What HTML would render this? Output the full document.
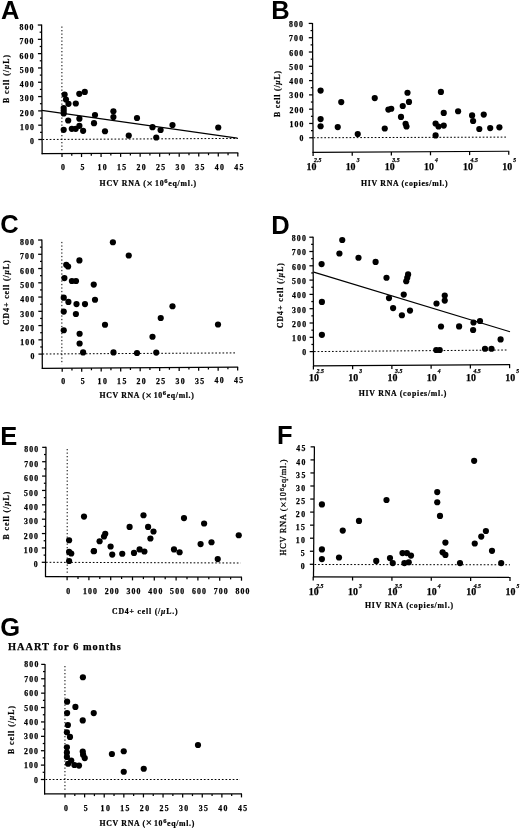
<!DOCTYPE html>
<html><head><meta charset="utf-8"><title>Figure</title>
<style>
html,body{margin:0;padding:0;background:#fff;}
body{width:520px;height:830px;overflow:hidden;}
svg{display:block;}
</style></head>
<body>
<svg width="520" height="830" viewBox="0 0 520 830" fill="#000">
<defs><filter id="soft" x="0" y="0" width="520" height="830" filterUnits="userSpaceOnUse"><feGaussianBlur stdDeviation="0.4"/></filter></defs>
<rect width="520" height="830" fill="#fff"/>
<g filter="url(#soft)">
<text x="1" y="19.2" font-size="25.5" font-weight="bold" font-family='"Liberation Sans", sans-serif'>A</text>
<line x1="41.6" y1="24.5" x2="42.15" y2="154.2" stroke="#000" stroke-width="1.25"/>
<line x1="38.29" y1="139.5" x2="42.09" y2="139.5" stroke="#000" stroke-width="1.25"/>
<text x="33.94" y="144.4" font-size="7.8" text-anchor="end" font-weight="bold" font-family='"Liberation Serif", serif' stroke="#000" stroke-width="0.25">0</text>
<line x1="40.06" y1="132.34" x2="42.06" y2="132.34" stroke="#000" stroke-width="1.25"/>
<line x1="38.23" y1="125.19" x2="42.03" y2="125.19" stroke="#000" stroke-width="1.25"/>
<text x="33.88" y="130.09" font-size="7.8" text-anchor="end" font-weight="bold" font-family='"Liberation Serif", serif' stroke="#000" stroke-width="0.25" textLength="14" lengthAdjust="spacing">100</text>
<line x1="40" y1="118.03" x2="42" y2="118.03" stroke="#000" stroke-width="1.25"/>
<line x1="38.17" y1="110.88" x2="41.97" y2="110.88" stroke="#000" stroke-width="1.25"/>
<text x="33.82" y="115.78" font-size="7.8" text-anchor="end" font-weight="bold" font-family='"Liberation Serif", serif' stroke="#000" stroke-width="0.25" textLength="14" lengthAdjust="spacing">200</text>
<line x1="39.94" y1="103.72" x2="41.94" y2="103.72" stroke="#000" stroke-width="1.25"/>
<line x1="38.11" y1="96.57" x2="41.91" y2="96.57" stroke="#000" stroke-width="1.25"/>
<text x="33.76" y="101.47" font-size="7.8" text-anchor="end" font-weight="bold" font-family='"Liberation Serif", serif' stroke="#000" stroke-width="0.25" textLength="14" lengthAdjust="spacing">300</text>
<line x1="39.88" y1="89.41" x2="41.88" y2="89.41" stroke="#000" stroke-width="1.25"/>
<line x1="38.04" y1="82.26" x2="41.84" y2="82.26" stroke="#000" stroke-width="1.25"/>
<text x="33.69" y="87.16" font-size="7.8" text-anchor="end" font-weight="bold" font-family='"Liberation Serif", serif' stroke="#000" stroke-width="0.25" textLength="14" lengthAdjust="spacing">400</text>
<line x1="39.81" y1="75.1" x2="41.81" y2="75.1" stroke="#000" stroke-width="1.25"/>
<line x1="37.98" y1="67.95" x2="41.78" y2="67.95" stroke="#000" stroke-width="1.25"/>
<text x="33.63" y="72.85" font-size="7.8" text-anchor="end" font-weight="bold" font-family='"Liberation Serif", serif' stroke="#000" stroke-width="0.25" textLength="14" lengthAdjust="spacing">500</text>
<line x1="39.75" y1="60.8" x2="41.75" y2="60.8" stroke="#000" stroke-width="1.25"/>
<line x1="37.92" y1="53.64" x2="41.72" y2="53.64" stroke="#000" stroke-width="1.25"/>
<text x="33.57" y="58.54" font-size="7.8" text-anchor="end" font-weight="bold" font-family='"Liberation Serif", serif' stroke="#000" stroke-width="0.25" textLength="14" lengthAdjust="spacing">600</text>
<line x1="39.69" y1="46.48" x2="41.69" y2="46.48" stroke="#000" stroke-width="1.25"/>
<line x1="37.86" y1="39.33" x2="41.66" y2="39.33" stroke="#000" stroke-width="1.25"/>
<text x="33.51" y="44.23" font-size="7.8" text-anchor="end" font-weight="bold" font-family='"Liberation Serif", serif' stroke="#000" stroke-width="0.25" textLength="14" lengthAdjust="spacing">700</text>
<line x1="39.63" y1="32.17" x2="41.63" y2="32.17" stroke="#000" stroke-width="1.25"/>
<line x1="37.8" y1="25.02" x2="41.6" y2="25.02" stroke="#000" stroke-width="1.25"/>
<text x="33.45" y="29.92" font-size="7.8" text-anchor="end" font-weight="bold" font-family='"Liberation Serif", serif' stroke="#000" stroke-width="0.25" textLength="14" lengthAdjust="spacing">800</text>
<line x1="41.65" y1="153.7" x2="238.31" y2="152.9" stroke="#000" stroke-width="1.25"/>
<line x1="62" y1="153.62" x2="62" y2="157.12" stroke="#000" stroke-width="1.25"/>
<text x="63" y="170.42" font-size="7.8" text-anchor="middle" font-weight="bold" font-family='"Liberation Serif", serif' stroke="#000" stroke-width="0.25">0</text>
<line x1="71.77" y1="153.58" x2="71.77" y2="155.78" stroke="#000" stroke-width="1.25"/>
<line x1="81.53" y1="153.54" x2="81.53" y2="157.04" stroke="#000" stroke-width="1.25"/>
<text x="82.53" y="170.34" font-size="7.8" text-anchor="middle" font-weight="bold" font-family='"Liberation Serif", serif' stroke="#000" stroke-width="0.25">5</text>
<line x1="91.3" y1="153.5" x2="91.3" y2="155.7" stroke="#000" stroke-width="1.25"/>
<line x1="101.07" y1="153.46" x2="101.07" y2="156.96" stroke="#000" stroke-width="1.25"/>
<text x="102.07" y="170.26" font-size="7.8" text-anchor="middle" font-weight="bold" font-family='"Liberation Serif", serif' stroke="#000" stroke-width="0.25" textLength="9.2" lengthAdjust="spacing">10</text>
<line x1="110.84" y1="153.42" x2="110.84" y2="155.62" stroke="#000" stroke-width="1.25"/>
<line x1="120.61" y1="153.38" x2="120.61" y2="156.88" stroke="#000" stroke-width="1.25"/>
<text x="121.61" y="170.18" font-size="7.8" text-anchor="middle" font-weight="bold" font-family='"Liberation Serif", serif' stroke="#000" stroke-width="0.25" textLength="9.2" lengthAdjust="spacing">15</text>
<line x1="130.37" y1="153.34" x2="130.37" y2="155.54" stroke="#000" stroke-width="1.25"/>
<line x1="140.14" y1="153.3" x2="140.14" y2="156.8" stroke="#000" stroke-width="1.25"/>
<text x="141.14" y="170.1" font-size="7.8" text-anchor="middle" font-weight="bold" font-family='"Liberation Serif", serif' stroke="#000" stroke-width="0.25" textLength="9.2" lengthAdjust="spacing">20</text>
<line x1="149.91" y1="153.26" x2="149.91" y2="155.46" stroke="#000" stroke-width="1.25"/>
<line x1="159.68" y1="153.22" x2="159.68" y2="156.72" stroke="#000" stroke-width="1.25"/>
<text x="160.68" y="170.02" font-size="7.8" text-anchor="middle" font-weight="bold" font-family='"Liberation Serif", serif' stroke="#000" stroke-width="0.25" textLength="9.2" lengthAdjust="spacing">25</text>
<line x1="169.44" y1="153.18" x2="169.44" y2="155.38" stroke="#000" stroke-width="1.25"/>
<line x1="179.21" y1="153.14" x2="179.21" y2="156.64" stroke="#000" stroke-width="1.25"/>
<text x="180.21" y="169.94" font-size="7.8" text-anchor="middle" font-weight="bold" font-family='"Liberation Serif", serif' stroke="#000" stroke-width="0.25" textLength="9.2" lengthAdjust="spacing">30</text>
<line x1="188.98" y1="153.1" x2="188.98" y2="155.3" stroke="#000" stroke-width="1.25"/>
<line x1="198.75" y1="153.06" x2="198.75" y2="156.56" stroke="#000" stroke-width="1.25"/>
<text x="199.75" y="169.86" font-size="7.8" text-anchor="middle" font-weight="bold" font-family='"Liberation Serif", serif' stroke="#000" stroke-width="0.25" textLength="9.2" lengthAdjust="spacing">35</text>
<line x1="208.51" y1="153.02" x2="208.51" y2="155.22" stroke="#000" stroke-width="1.25"/>
<line x1="218.28" y1="152.98" x2="218.28" y2="156.48" stroke="#000" stroke-width="1.25"/>
<text x="219.28" y="169.78" font-size="7.8" text-anchor="middle" font-weight="bold" font-family='"Liberation Serif", serif' stroke="#000" stroke-width="0.25" textLength="9.2" lengthAdjust="spacing">40</text>
<line x1="228.05" y1="152.94" x2="228.05" y2="155.14" stroke="#000" stroke-width="1.25"/>
<line x1="237.81" y1="152.9" x2="237.81" y2="156.4" stroke="#000" stroke-width="1.25"/>
<text x="238.81" y="169.7" font-size="7.8" text-anchor="middle" font-weight="bold" font-family='"Liberation Serif", serif' stroke="#000" stroke-width="0.25" textLength="9.2" lengthAdjust="spacing">45</text>
<line x1="61.9" y1="26.5" x2="61.9" y2="152" stroke="#000" stroke-width="1.0" stroke-dasharray="1.3 2.2"/>
<line x1="42.5" y1="139.5" x2="238" y2="138.4" stroke="#000" stroke-width="1.0" stroke-dasharray="1.7 1.9"/>
<line x1="41.8" y1="110.35" x2="237.3" y2="138.1" stroke="#000" stroke-width="1.15"/>
<circle cx="64.6" cy="94.6" r="3.1"/>
<circle cx="66" cy="99.6" r="3.1"/>
<circle cx="68.5" cy="103.8" r="3.1"/>
<circle cx="79.3" cy="93.8" r="3.1"/>
<circle cx="84.8" cy="91.9" r="3.1"/>
<circle cx="75.8" cy="103.5" r="3.1"/>
<circle cx="63.7" cy="108.1" r="3.1"/>
<circle cx="63.7" cy="110.8" r="3.1"/>
<circle cx="63.7" cy="113.5" r="3.1"/>
<circle cx="68.2" cy="120.5" r="3.1"/>
<circle cx="79.4" cy="118.7" r="3.1"/>
<circle cx="63.7" cy="129.8" r="3.1"/>
<circle cx="71.8" cy="128.8" r="3.1"/>
<circle cx="75.7" cy="128.8" r="3.1"/>
<circle cx="79.4" cy="125.8" r="3.1"/>
<circle cx="83.1" cy="130.8" r="3.1"/>
<circle cx="95" cy="115" r="3.1"/>
<circle cx="94" cy="123.2" r="3.1"/>
<circle cx="105" cy="131.25" r="3.1"/>
<circle cx="113.4" cy="111.25" r="3.1"/>
<circle cx="113.4" cy="117" r="3.1"/>
<circle cx="137" cy="118" r="3.1"/>
<circle cx="128.75" cy="135.6" r="3.1"/>
<circle cx="152.5" cy="127.2" r="3.1"/>
<circle cx="160.6" cy="130" r="3.1"/>
<circle cx="156.25" cy="137.5" r="3.1"/>
<circle cx="172.5" cy="125" r="3.1"/>
<circle cx="218.25" cy="127.5" r="3.1"/>
<text transform="translate(8.6,79) rotate(-90)" x="0" y="0" font-size="7.8" text-anchor="middle" font-weight="bold" font-family='"Liberation Serif", serif' stroke="#000" stroke-width="0.22" textLength="48" lengthAdjust="spacing">B cell (/<tspan font-style="italic">μ</tspan>L)</text>
<text x="99.6" y="186.1" font-size="7.8" font-weight="bold" font-family='"Liberation Serif", serif' stroke="#000" stroke-width="0.22" textLength="96.4" lengthAdjust="spacing">HCV RNA (<tspan font-size="11" dy="0.9">×</tspan><tspan dy="-0.9"> 10</tspan><tspan dy="-2.8" font-size="6.5">6</tspan><tspan dy="2.8">eq/ml.)</tspan></text>
<text x="271.3" y="18.8" font-size="25.5" font-weight="bold" font-family='"Liberation Sans", sans-serif'>B</text>
<line x1="312.5" y1="22.9" x2="313.1" y2="152.9" stroke="#000" stroke-width="1.25"/>
<line x1="309.23" y1="137.75" x2="313.03" y2="137.75" stroke="#000" stroke-width="1.25"/>
<text x="303.53" y="141.35" font-size="7.8" text-anchor="end" font-weight="bold" font-family='"Liberation Serif", serif' stroke="#000" stroke-width="0.25">0</text>
<line x1="311" y1="130.6" x2="313" y2="130.6" stroke="#000" stroke-width="1.25"/>
<line x1="309.17" y1="123.46" x2="312.97" y2="123.46" stroke="#000" stroke-width="1.25"/>
<text x="303.47" y="127.06" font-size="7.8" text-anchor="end" font-weight="bold" font-family='"Liberation Serif", serif' stroke="#000" stroke-width="0.25" textLength="14" lengthAdjust="spacing">100</text>
<line x1="310.93" y1="116.32" x2="312.93" y2="116.32" stroke="#000" stroke-width="1.25"/>
<line x1="309.1" y1="109.17" x2="312.9" y2="109.17" stroke="#000" stroke-width="1.25"/>
<text x="303.4" y="112.77" font-size="7.8" text-anchor="end" font-weight="bold" font-family='"Liberation Serif", serif' stroke="#000" stroke-width="0.25" textLength="14" lengthAdjust="spacing">200</text>
<line x1="310.87" y1="102.03" x2="312.87" y2="102.03" stroke="#000" stroke-width="1.25"/>
<line x1="309.03" y1="94.88" x2="312.83" y2="94.88" stroke="#000" stroke-width="1.25"/>
<text x="303.33" y="98.48" font-size="7.8" text-anchor="end" font-weight="bold" font-family='"Liberation Serif", serif' stroke="#000" stroke-width="0.25" textLength="14" lengthAdjust="spacing">300</text>
<line x1="310.8" y1="87.73" x2="312.8" y2="87.73" stroke="#000" stroke-width="1.25"/>
<line x1="308.97" y1="80.59" x2="312.77" y2="80.59" stroke="#000" stroke-width="1.25"/>
<text x="303.27" y="84.19" font-size="7.8" text-anchor="end" font-weight="bold" font-family='"Liberation Serif", serif' stroke="#000" stroke-width="0.25" textLength="14" lengthAdjust="spacing">400</text>
<line x1="310.73" y1="73.45" x2="312.73" y2="73.45" stroke="#000" stroke-width="1.25"/>
<line x1="308.9" y1="66.3" x2="312.7" y2="66.3" stroke="#000" stroke-width="1.25"/>
<text x="303.2" y="69.9" font-size="7.8" text-anchor="end" font-weight="bold" font-family='"Liberation Serif", serif' stroke="#000" stroke-width="0.25" textLength="14" lengthAdjust="spacing">500</text>
<line x1="310.67" y1="59.16" x2="312.67" y2="59.16" stroke="#000" stroke-width="1.25"/>
<line x1="308.83" y1="52.01" x2="312.63" y2="52.01" stroke="#000" stroke-width="1.25"/>
<text x="303.13" y="55.61" font-size="7.8" text-anchor="end" font-weight="bold" font-family='"Liberation Serif", serif' stroke="#000" stroke-width="0.25" textLength="14" lengthAdjust="spacing">600</text>
<line x1="310.6" y1="44.87" x2="312.6" y2="44.87" stroke="#000" stroke-width="1.25"/>
<line x1="308.77" y1="37.72" x2="312.57" y2="37.72" stroke="#000" stroke-width="1.25"/>
<text x="303.07" y="41.32" font-size="7.8" text-anchor="end" font-weight="bold" font-family='"Liberation Serif", serif' stroke="#000" stroke-width="0.25" textLength="14" lengthAdjust="spacing">700</text>
<line x1="310.53" y1="30.57" x2="312.53" y2="30.57" stroke="#000" stroke-width="1.25"/>
<line x1="308.7" y1="23.43" x2="312.5" y2="23.43" stroke="#000" stroke-width="1.25"/>
<text x="303" y="27.03" font-size="7.8" text-anchor="end" font-weight="bold" font-family='"Liberation Serif", serif' stroke="#000" stroke-width="0.25" textLength="14" lengthAdjust="spacing">800</text>
<line x1="312.6" y1="152.4" x2="509.25" y2="151.25" stroke="#000" stroke-width="1.25"/>
<line x1="313.1" y1="152.4" x2="313.1" y2="156" stroke="#000" stroke-width="1.25"/>
<text x="311.5" y="169.8" font-size="9.3" text-anchor="middle" font-weight="bold" font-family='"Liberation Serif", serif' stroke="#000" stroke-width="0.25" textLength="9.9" lengthAdjust="spacingAndGlyphs">10</text>
<text x="314.1" y="162.3" font-size="5.6" text-anchor="start" font-weight="bold" font-family='"Liberation Serif", serif' stroke="#000" stroke-width="0.25" textLength="7.2" lengthAdjust="spacingAndGlyphs" font-style="italic">2.5</text>
<line x1="352.23" y1="152.17" x2="352.23" y2="155.77" stroke="#000" stroke-width="1.25"/>
<text x="350.63" y="169.8" font-size="9.3" text-anchor="middle" font-weight="bold" font-family='"Liberation Serif", serif' stroke="#000" stroke-width="0.25" textLength="9.9" lengthAdjust="spacingAndGlyphs">10</text>
<text x="356.63" y="162.3" font-size="5.6" text-anchor="start" font-weight="bold" font-family='"Liberation Serif", serif' stroke="#000" stroke-width="0.25" font-style="italic">3</text>
<line x1="391.36" y1="151.94" x2="391.36" y2="155.54" stroke="#000" stroke-width="1.25"/>
<text x="389.76" y="169.8" font-size="9.3" text-anchor="middle" font-weight="bold" font-family='"Liberation Serif", serif' stroke="#000" stroke-width="0.25" textLength="9.9" lengthAdjust="spacingAndGlyphs">10</text>
<text x="392.36" y="162.3" font-size="5.6" text-anchor="start" font-weight="bold" font-family='"Liberation Serif", serif' stroke="#000" stroke-width="0.25" textLength="7.2" lengthAdjust="spacingAndGlyphs" font-style="italic">3.5</text>
<line x1="430.49" y1="151.71" x2="430.49" y2="155.31" stroke="#000" stroke-width="1.25"/>
<text x="428.89" y="169.8" font-size="9.3" text-anchor="middle" font-weight="bold" font-family='"Liberation Serif", serif' stroke="#000" stroke-width="0.25" textLength="9.9" lengthAdjust="spacingAndGlyphs">10</text>
<text x="434.89" y="162.3" font-size="5.6" text-anchor="start" font-weight="bold" font-family='"Liberation Serif", serif' stroke="#000" stroke-width="0.25" font-style="italic">4</text>
<line x1="469.62" y1="151.48" x2="469.62" y2="155.08" stroke="#000" stroke-width="1.25"/>
<text x="468.02" y="169.8" font-size="9.3" text-anchor="middle" font-weight="bold" font-family='"Liberation Serif", serif' stroke="#000" stroke-width="0.25" textLength="9.9" lengthAdjust="spacingAndGlyphs">10</text>
<text x="470.62" y="162.3" font-size="5.6" text-anchor="start" font-weight="bold" font-family='"Liberation Serif", serif' stroke="#000" stroke-width="0.25" textLength="7.2" lengthAdjust="spacingAndGlyphs" font-style="italic">4.5</text>
<line x1="508.75" y1="151.25" x2="508.75" y2="154.85" stroke="#000" stroke-width="1.25"/>
<text x="507.15" y="169.8" font-size="9.3" text-anchor="middle" font-weight="bold" font-family='"Liberation Serif", serif' stroke="#000" stroke-width="0.25" textLength="9.9" lengthAdjust="spacingAndGlyphs">10</text>
<text x="513.15" y="162.3" font-size="5.6" text-anchor="start" font-weight="bold" font-family='"Liberation Serif", serif' stroke="#000" stroke-width="0.25" font-style="italic">5</text>
<line x1="313.5" y1="137.75" x2="507" y2="137.1" stroke="#000" stroke-width="1.0" stroke-dasharray="1.7 1.9"/>
<circle cx="320.6" cy="90.6" r="3.1"/>
<circle cx="341.25" cy="102.1" r="3.1"/>
<circle cx="320.6" cy="119.1" r="3.1"/>
<circle cx="320.6" cy="126.25" r="3.1"/>
<circle cx="337.75" cy="127.1" r="3.1"/>
<circle cx="357.75" cy="134" r="3.1"/>
<circle cx="374.75" cy="98.1" r="3.1"/>
<circle cx="407.5" cy="92.75" r="3.1"/>
<circle cx="409" cy="101.9" r="3.1"/>
<circle cx="402.75" cy="106" r="3.1"/>
<circle cx="388.4" cy="109.6" r="3.1"/>
<circle cx="391.25" cy="108.75" r="3.1"/>
<circle cx="401" cy="116.9" r="3.1"/>
<circle cx="405.6" cy="123.75" r="3.1"/>
<circle cx="406.5" cy="126.5" r="3.1"/>
<circle cx="384.75" cy="128.5" r="3.1"/>
<circle cx="440.9" cy="91.9" r="3.1"/>
<circle cx="443.75" cy="112.9" r="3.1"/>
<circle cx="458.1" cy="111.25" r="3.1"/>
<circle cx="472.1" cy="115.4" r="3.1"/>
<circle cx="473.1" cy="121" r="3.1"/>
<circle cx="483.75" cy="114.6" r="3.1"/>
<circle cx="435.6" cy="123.5" r="3.1"/>
<circle cx="438.5" cy="126.5" r="3.1"/>
<circle cx="443.75" cy="125.6" r="3.1"/>
<circle cx="479.3" cy="129" r="3.1"/>
<circle cx="490.2" cy="128.1" r="3.1"/>
<circle cx="499.4" cy="127.3" r="3.1"/>
<circle cx="435.6" cy="135.4" r="3.1"/>
<text transform="translate(279.8,93.9) rotate(-90)" x="0" y="0" font-size="7.8" text-anchor="middle" font-weight="bold" font-family='"Liberation Serif", serif' stroke="#000" stroke-width="0.22" textLength="46" lengthAdjust="spacing">B cell (/<tspan font-style="italic">μ</tspan>L)</text>
<text x="361" y="186" font-size="7.8" font-weight="bold" font-family='"Liberation Serif", serif' stroke="#000" stroke-width="0.22" textLength="86.5" lengthAdjust="spacing">HIV RNA (copies/ml.)</text>
<text x="0.3" y="233.4" font-size="25.5" font-weight="bold" font-family='"Liberation Sans", sans-serif'>C</text>
<line x1="41.9" y1="239.5" x2="42.3" y2="368.9" stroke="#000" stroke-width="1.25"/>
<line x1="38.46" y1="354.1" x2="42.26" y2="354.1" stroke="#000" stroke-width="1.25"/>
<text x="34.36" y="359.3" font-size="7.8" text-anchor="end" font-weight="bold" font-family='"Liberation Serif", serif' stroke="#000" stroke-width="0.25">0</text>
<line x1="40.23" y1="346.97" x2="42.23" y2="346.97" stroke="#000" stroke-width="1.25"/>
<line x1="38.41" y1="339.84" x2="42.21" y2="339.84" stroke="#000" stroke-width="1.25"/>
<text x="34.31" y="345.04" font-size="7.8" text-anchor="end" font-weight="bold" font-family='"Liberation Serif", serif' stroke="#000" stroke-width="0.25" textLength="14" lengthAdjust="spacing">100</text>
<line x1="40.19" y1="332.71" x2="42.19" y2="332.71" stroke="#000" stroke-width="1.25"/>
<line x1="38.37" y1="325.58" x2="42.17" y2="325.58" stroke="#000" stroke-width="1.25"/>
<text x="34.27" y="330.78" font-size="7.8" text-anchor="end" font-weight="bold" font-family='"Liberation Serif", serif' stroke="#000" stroke-width="0.25" textLength="14" lengthAdjust="spacing">200</text>
<line x1="40.14" y1="318.45" x2="42.14" y2="318.45" stroke="#000" stroke-width="1.25"/>
<line x1="38.32" y1="311.32" x2="42.12" y2="311.32" stroke="#000" stroke-width="1.25"/>
<text x="34.22" y="316.52" font-size="7.8" text-anchor="end" font-weight="bold" font-family='"Liberation Serif", serif' stroke="#000" stroke-width="0.25" textLength="14" lengthAdjust="spacing">300</text>
<line x1="40.1" y1="304.19" x2="42.1" y2="304.19" stroke="#000" stroke-width="1.25"/>
<line x1="38.28" y1="297.06" x2="42.08" y2="297.06" stroke="#000" stroke-width="1.25"/>
<text x="34.18" y="302.26" font-size="7.8" text-anchor="end" font-weight="bold" font-family='"Liberation Serif", serif' stroke="#000" stroke-width="0.25" textLength="14" lengthAdjust="spacing">400</text>
<line x1="40.06" y1="289.93" x2="42.06" y2="289.93" stroke="#000" stroke-width="1.25"/>
<line x1="38.23" y1="282.8" x2="42.03" y2="282.8" stroke="#000" stroke-width="1.25"/>
<text x="34.13" y="288" font-size="7.8" text-anchor="end" font-weight="bold" font-family='"Liberation Serif", serif' stroke="#000" stroke-width="0.25" textLength="14" lengthAdjust="spacing">500</text>
<line x1="40.01" y1="275.67" x2="42.01" y2="275.67" stroke="#000" stroke-width="1.25"/>
<line x1="38.19" y1="268.54" x2="41.99" y2="268.54" stroke="#000" stroke-width="1.25"/>
<text x="34.09" y="273.74" font-size="7.8" text-anchor="end" font-weight="bold" font-family='"Liberation Serif", serif' stroke="#000" stroke-width="0.25" textLength="14" lengthAdjust="spacing">600</text>
<line x1="39.97" y1="261.41" x2="41.97" y2="261.41" stroke="#000" stroke-width="1.25"/>
<line x1="38.14" y1="254.28" x2="41.94" y2="254.28" stroke="#000" stroke-width="1.25"/>
<text x="34.04" y="259.48" font-size="7.8" text-anchor="end" font-weight="bold" font-family='"Liberation Serif", serif' stroke="#000" stroke-width="0.25" textLength="14" lengthAdjust="spacing">700</text>
<line x1="39.92" y1="247.15" x2="41.92" y2="247.15" stroke="#000" stroke-width="1.25"/>
<line x1="38.1" y1="240.02" x2="41.9" y2="240.02" stroke="#000" stroke-width="1.25"/>
<text x="34" y="245.22" font-size="7.8" text-anchor="end" font-weight="bold" font-family='"Liberation Serif", serif' stroke="#000" stroke-width="0.25" textLength="14" lengthAdjust="spacing">800</text>
<line x1="41.8" y1="368.4" x2="238.16" y2="367.1" stroke="#000" stroke-width="1.25"/>
<line x1="62.2" y1="368.27" x2="62.2" y2="371.77" stroke="#000" stroke-width="1.25"/>
<text x="63.2" y="384.47" font-size="7.8" text-anchor="middle" font-weight="bold" font-family='"Liberation Serif", serif' stroke="#000" stroke-width="0.25">0</text>
<line x1="71.95" y1="368.2" x2="71.95" y2="370.4" stroke="#000" stroke-width="1.25"/>
<line x1="81.7" y1="368.14" x2="81.7" y2="371.64" stroke="#000" stroke-width="1.25"/>
<text x="82.7" y="384.34" font-size="7.8" text-anchor="middle" font-weight="bold" font-family='"Liberation Serif", serif' stroke="#000" stroke-width="0.25">5</text>
<line x1="91.44" y1="368.07" x2="91.44" y2="370.27" stroke="#000" stroke-width="1.25"/>
<line x1="101.19" y1="368.01" x2="101.19" y2="371.51" stroke="#000" stroke-width="1.25"/>
<text x="102.19" y="384.21" font-size="7.8" text-anchor="middle" font-weight="bold" font-family='"Liberation Serif", serif' stroke="#000" stroke-width="0.25" textLength="9.2" lengthAdjust="spacing">10</text>
<line x1="110.94" y1="367.94" x2="110.94" y2="370.14" stroke="#000" stroke-width="1.25"/>
<line x1="120.69" y1="367.88" x2="120.69" y2="371.38" stroke="#000" stroke-width="1.25"/>
<text x="121.69" y="384.08" font-size="7.8" text-anchor="middle" font-weight="bold" font-family='"Liberation Serif", serif' stroke="#000" stroke-width="0.25" textLength="9.2" lengthAdjust="spacing">15</text>
<line x1="130.43" y1="367.81" x2="130.43" y2="370.01" stroke="#000" stroke-width="1.25"/>
<line x1="140.18" y1="367.75" x2="140.18" y2="371.25" stroke="#000" stroke-width="1.25"/>
<text x="141.18" y="383.95" font-size="7.8" text-anchor="middle" font-weight="bold" font-family='"Liberation Serif", serif' stroke="#000" stroke-width="0.25" textLength="9.2" lengthAdjust="spacing">20</text>
<line x1="149.93" y1="367.68" x2="149.93" y2="369.88" stroke="#000" stroke-width="1.25"/>
<line x1="159.68" y1="367.62" x2="159.68" y2="371.12" stroke="#000" stroke-width="1.25"/>
<text x="160.68" y="383.82" font-size="7.8" text-anchor="middle" font-weight="bold" font-family='"Liberation Serif", serif' stroke="#000" stroke-width="0.25" textLength="9.2" lengthAdjust="spacing">25</text>
<line x1="169.42" y1="367.55" x2="169.42" y2="369.75" stroke="#000" stroke-width="1.25"/>
<line x1="179.17" y1="367.49" x2="179.17" y2="370.99" stroke="#000" stroke-width="1.25"/>
<text x="180.17" y="383.69" font-size="7.8" text-anchor="middle" font-weight="bold" font-family='"Liberation Serif", serif' stroke="#000" stroke-width="0.25" textLength="9.2" lengthAdjust="spacing">30</text>
<line x1="188.92" y1="367.42" x2="188.92" y2="369.62" stroke="#000" stroke-width="1.25"/>
<line x1="198.67" y1="367.36" x2="198.67" y2="370.86" stroke="#000" stroke-width="1.25"/>
<text x="199.67" y="383.56" font-size="7.8" text-anchor="middle" font-weight="bold" font-family='"Liberation Serif", serif' stroke="#000" stroke-width="0.25" textLength="9.2" lengthAdjust="spacing">35</text>
<line x1="208.41" y1="367.29" x2="208.41" y2="369.49" stroke="#000" stroke-width="1.25"/>
<line x1="218.16" y1="367.23" x2="218.16" y2="370.73" stroke="#000" stroke-width="1.25"/>
<text x="219.16" y="383.43" font-size="7.8" text-anchor="middle" font-weight="bold" font-family='"Liberation Serif", serif' stroke="#000" stroke-width="0.25" textLength="9.2" lengthAdjust="spacing">40</text>
<line x1="227.91" y1="367.16" x2="227.91" y2="369.36" stroke="#000" stroke-width="1.25"/>
<line x1="237.66" y1="367.1" x2="237.66" y2="370.6" stroke="#000" stroke-width="1.25"/>
<text x="238.66" y="383.3" font-size="7.8" text-anchor="middle" font-weight="bold" font-family='"Liberation Serif", serif' stroke="#000" stroke-width="0.25" textLength="9.2" lengthAdjust="spacing">45</text>
<line x1="61.85" y1="241.9" x2="61.85" y2="364.5" stroke="#000" stroke-width="1.0" stroke-dasharray="1.3 2.2"/>
<line x1="42.5" y1="354" x2="236.5" y2="352.9" stroke="#000" stroke-width="1.0" stroke-dasharray="1.7 1.9"/>
<circle cx="112.9" cy="242.25" r="3.1"/>
<circle cx="79.4" cy="260.4" r="3.1"/>
<circle cx="66.25" cy="264.75" r="3.1"/>
<circle cx="68.1" cy="266.5" r="3.1"/>
<circle cx="64.4" cy="278.1" r="3.1"/>
<circle cx="71.9" cy="281" r="3.1"/>
<circle cx="76" cy="281" r="3.1"/>
<circle cx="93.75" cy="284.6" r="3.1"/>
<circle cx="63.75" cy="297.7" r="3.1"/>
<circle cx="68.4" cy="301.9" r="3.1"/>
<circle cx="76.5" cy="304.1" r="3.1"/>
<circle cx="85" cy="304.1" r="3.1"/>
<circle cx="95" cy="299.75" r="3.1"/>
<circle cx="63.75" cy="311.6" r="3.1"/>
<circle cx="75.9" cy="314" r="3.1"/>
<circle cx="105" cy="324.75" r="3.1"/>
<circle cx="63.75" cy="330.25" r="3.1"/>
<circle cx="79.6" cy="333.75" r="3.1"/>
<circle cx="79.6" cy="343.5" r="3.1"/>
<circle cx="83.1" cy="352.4" r="3.1"/>
<circle cx="113.5" cy="352.4" r="3.1"/>
<circle cx="128.75" cy="255.5" r="3.1"/>
<circle cx="172.5" cy="306.25" r="3.1"/>
<circle cx="160.75" cy="318" r="3.1"/>
<circle cx="218" cy="324.5" r="3.1"/>
<circle cx="152.5" cy="336.75" r="3.1"/>
<circle cx="137" cy="353" r="3.1"/>
<circle cx="156.25" cy="352.6" r="3.1"/>
<text transform="translate(8.6,292.7) rotate(-90)" x="0" y="0" font-size="7.8" text-anchor="middle" font-weight="bold" font-family='"Liberation Serif", serif' stroke="#000" stroke-width="0.22" textLength="64.5" lengthAdjust="spacing">CD4+ cell (/<tspan font-style="italic">μ</tspan>L)</text>
<text x="99.5" y="398" font-size="7.8" font-weight="bold" font-family='"Liberation Serif", serif' stroke="#000" stroke-width="0.22" textLength="94.3" lengthAdjust="spacing">HCV RNA (<tspan font-size="11" dy="0.9">×</tspan><tspan dy="-0.9"> 10</tspan><tspan dy="-2.8" font-size="6.5">6</tspan><tspan dy="2.8">eq/ml.)</tspan></text>
<text x="271.3" y="233.7" font-size="25.5" font-weight="bold" font-family='"Liberation Sans", sans-serif'>D</text>
<line x1="313.1" y1="236.75" x2="313.5" y2="366.4" stroke="#000" stroke-width="1.25"/>
<line x1="309.66" y1="351.6" x2="313.46" y2="351.6" stroke="#000" stroke-width="1.25"/>
<text x="306.16" y="355.4" font-size="7.8" text-anchor="end" font-weight="bold" font-family='"Liberation Serif", serif' stroke="#000" stroke-width="0.25">0</text>
<line x1="311.43" y1="344.45" x2="313.43" y2="344.45" stroke="#000" stroke-width="1.25"/>
<line x1="309.61" y1="337.3" x2="313.41" y2="337.3" stroke="#000" stroke-width="1.25"/>
<text x="306.11" y="341.1" font-size="7.8" text-anchor="end" font-weight="bold" font-family='"Liberation Serif", serif' stroke="#000" stroke-width="0.25" textLength="14" lengthAdjust="spacing">100</text>
<line x1="311.39" y1="330.15" x2="313.39" y2="330.15" stroke="#000" stroke-width="1.25"/>
<line x1="309.57" y1="323" x2="313.37" y2="323" stroke="#000" stroke-width="1.25"/>
<text x="306.07" y="326.8" font-size="7.8" text-anchor="end" font-weight="bold" font-family='"Liberation Serif", serif' stroke="#000" stroke-width="0.25" textLength="14" lengthAdjust="spacing">200</text>
<line x1="311.34" y1="315.85" x2="313.34" y2="315.85" stroke="#000" stroke-width="1.25"/>
<line x1="309.52" y1="308.7" x2="313.32" y2="308.7" stroke="#000" stroke-width="1.25"/>
<text x="306.02" y="312.5" font-size="7.8" text-anchor="end" font-weight="bold" font-family='"Liberation Serif", serif' stroke="#000" stroke-width="0.25" textLength="14" lengthAdjust="spacing">300</text>
<line x1="311.3" y1="301.55" x2="313.3" y2="301.55" stroke="#000" stroke-width="1.25"/>
<line x1="309.48" y1="294.4" x2="313.28" y2="294.4" stroke="#000" stroke-width="1.25"/>
<text x="305.98" y="298.2" font-size="7.8" text-anchor="end" font-weight="bold" font-family='"Liberation Serif", serif' stroke="#000" stroke-width="0.25" textLength="14" lengthAdjust="spacing">400</text>
<line x1="311.26" y1="287.25" x2="313.26" y2="287.25" stroke="#000" stroke-width="1.25"/>
<line x1="309.43" y1="280.1" x2="313.23" y2="280.1" stroke="#000" stroke-width="1.25"/>
<text x="305.93" y="283.9" font-size="7.8" text-anchor="end" font-weight="bold" font-family='"Liberation Serif", serif' stroke="#000" stroke-width="0.25" textLength="14" lengthAdjust="spacing">500</text>
<line x1="311.21" y1="272.95" x2="313.21" y2="272.95" stroke="#000" stroke-width="1.25"/>
<line x1="309.39" y1="265.8" x2="313.19" y2="265.8" stroke="#000" stroke-width="1.25"/>
<text x="305.89" y="269.6" font-size="7.8" text-anchor="end" font-weight="bold" font-family='"Liberation Serif", serif' stroke="#000" stroke-width="0.25" textLength="14" lengthAdjust="spacing">600</text>
<line x1="311.17" y1="258.65" x2="313.17" y2="258.65" stroke="#000" stroke-width="1.25"/>
<line x1="309.34" y1="251.5" x2="313.14" y2="251.5" stroke="#000" stroke-width="1.25"/>
<text x="305.84" y="255.3" font-size="7.8" text-anchor="end" font-weight="bold" font-family='"Liberation Serif", serif' stroke="#000" stroke-width="0.25" textLength="14" lengthAdjust="spacing">700</text>
<line x1="311.12" y1="244.35" x2="313.12" y2="244.35" stroke="#000" stroke-width="1.25"/>
<line x1="309.3" y1="237.2" x2="313.1" y2="237.2" stroke="#000" stroke-width="1.25"/>
<text x="305.8" y="241" font-size="7.8" text-anchor="end" font-weight="bold" font-family='"Liberation Serif", serif' stroke="#000" stroke-width="0.25" textLength="14" lengthAdjust="spacing">800</text>
<line x1="313" y1="365.9" x2="510.1" y2="364.6" stroke="#000" stroke-width="1.25"/>
<line x1="313.4" y1="365.9" x2="313.4" y2="369.5" stroke="#000" stroke-width="1.25"/>
<text x="314" y="380.6" font-size="9.3" text-anchor="middle" font-weight="bold" font-family='"Liberation Serif", serif' stroke="#000" stroke-width="0.25" textLength="9.9" lengthAdjust="spacingAndGlyphs">10</text>
<text x="316.6" y="373.1" font-size="5.6" text-anchor="start" font-weight="bold" font-family='"Liberation Serif", serif' stroke="#000" stroke-width="0.25" textLength="7.2" lengthAdjust="spacingAndGlyphs" font-style="italic">2.5</text>
<line x1="352.64" y1="365.64" x2="352.64" y2="369.24" stroke="#000" stroke-width="1.25"/>
<text x="353.24" y="380.6" font-size="9.3" text-anchor="middle" font-weight="bold" font-family='"Liberation Serif", serif' stroke="#000" stroke-width="0.25" textLength="9.9" lengthAdjust="spacingAndGlyphs">10</text>
<text x="359.24" y="373.1" font-size="5.6" text-anchor="start" font-weight="bold" font-family='"Liberation Serif", serif' stroke="#000" stroke-width="0.25" font-style="italic">3</text>
<line x1="391.88" y1="365.38" x2="391.88" y2="368.98" stroke="#000" stroke-width="1.25"/>
<text x="392.48" y="380.6" font-size="9.3" text-anchor="middle" font-weight="bold" font-family='"Liberation Serif", serif' stroke="#000" stroke-width="0.25" textLength="9.9" lengthAdjust="spacingAndGlyphs">10</text>
<text x="395.08" y="373.1" font-size="5.6" text-anchor="start" font-weight="bold" font-family='"Liberation Serif", serif' stroke="#000" stroke-width="0.25" textLength="7.2" lengthAdjust="spacingAndGlyphs" font-style="italic">3.5</text>
<line x1="431.12" y1="365.12" x2="431.12" y2="368.72" stroke="#000" stroke-width="1.25"/>
<text x="431.72" y="380.6" font-size="9.3" text-anchor="middle" font-weight="bold" font-family='"Liberation Serif", serif' stroke="#000" stroke-width="0.25" textLength="9.9" lengthAdjust="spacingAndGlyphs">10</text>
<text x="437.72" y="373.1" font-size="5.6" text-anchor="start" font-weight="bold" font-family='"Liberation Serif", serif' stroke="#000" stroke-width="0.25" font-style="italic">4</text>
<line x1="470.36" y1="364.86" x2="470.36" y2="368.46" stroke="#000" stroke-width="1.25"/>
<text x="470.96" y="380.6" font-size="9.3" text-anchor="middle" font-weight="bold" font-family='"Liberation Serif", serif' stroke="#000" stroke-width="0.25" textLength="9.9" lengthAdjust="spacingAndGlyphs">10</text>
<text x="473.56" y="373.1" font-size="5.6" text-anchor="start" font-weight="bold" font-family='"Liberation Serif", serif' stroke="#000" stroke-width="0.25" textLength="7.2" lengthAdjust="spacingAndGlyphs" font-style="italic">4.5</text>
<line x1="509.6" y1="364.6" x2="509.6" y2="368.2" stroke="#000" stroke-width="1.25"/>
<text x="510.2" y="380.6" font-size="9.3" text-anchor="middle" font-weight="bold" font-family='"Liberation Serif", serif' stroke="#000" stroke-width="0.25" textLength="9.9" lengthAdjust="spacingAndGlyphs">10</text>
<text x="516.2" y="373.1" font-size="5.6" text-anchor="start" font-weight="bold" font-family='"Liberation Serif", serif' stroke="#000" stroke-width="0.25" font-style="italic">5</text>
<line x1="314" y1="351.6" x2="508" y2="350" stroke="#000" stroke-width="1.0" stroke-dasharray="1.7 1.9"/>
<line x1="313.75" y1="272.1" x2="510" y2="331.7" stroke="#000" stroke-width="1.15"/>
<circle cx="342.25" cy="240" r="3.1"/>
<circle cx="339.4" cy="253.5" r="3.1"/>
<circle cx="321.6" cy="264.1" r="3.1"/>
<circle cx="358.5" cy="257.75" r="3.1"/>
<circle cx="375.6" cy="261.9" r="3.1"/>
<circle cx="321.9" cy="301.9" r="3.1"/>
<circle cx="321.9" cy="334.8" r="3.1"/>
<circle cx="386.5" cy="277.75" r="3.1"/>
<circle cx="408.1" cy="274.4" r="3.1"/>
<circle cx="407.25" cy="277.75" r="3.1"/>
<circle cx="406.25" cy="281.25" r="3.1"/>
<circle cx="403.75" cy="294.6" r="3.1"/>
<circle cx="389" cy="298.1" r="3.1"/>
<circle cx="393.1" cy="308.1" r="3.1"/>
<circle cx="410" cy="310.6" r="3.1"/>
<circle cx="401.9" cy="315.25" r="3.1"/>
<circle cx="436.5" cy="303.5" r="3.1"/>
<circle cx="444.75" cy="295.6" r="3.1"/>
<circle cx="444.75" cy="300.6" r="3.1"/>
<circle cx="441" cy="326.5" r="3.1"/>
<circle cx="459.1" cy="326.4" r="3.1"/>
<circle cx="436.25" cy="350" r="3.1"/>
<circle cx="439.75" cy="350" r="3.1"/>
<circle cx="473.5" cy="322.5" r="3.1"/>
<circle cx="480" cy="321" r="3.1"/>
<circle cx="473.1" cy="330" r="3.1"/>
<circle cx="500.6" cy="339.4" r="3.1"/>
<circle cx="485" cy="348.75" r="3.1"/>
<circle cx="491.5" cy="348.75" r="3.1"/>
<text transform="translate(282.5,295.6) rotate(-90)" x="0" y="0" font-size="7.8" text-anchor="middle" font-weight="bold" font-family='"Liberation Serif", serif' stroke="#000" stroke-width="0.22" textLength="65" lengthAdjust="spacing">CD4+ cell (/<tspan font-style="italic">μ</tspan>L)</text>
<text x="358.75" y="396.3" font-size="7.8" font-weight="bold" font-family='"Liberation Serif", serif' stroke="#000" stroke-width="0.22" textLength="87.5" lengthAdjust="spacing">HIV RNA (copies/ml.)</text>
<text x="0.3" y="444.6" font-size="25.5" font-weight="bold" font-family='"Liberation Sans", sans-serif'>E</text>
<line x1="46" y1="446.8" x2="45.5" y2="577.1" stroke="#000" stroke-width="1.25"/>
<line x1="41.76" y1="562.3" x2="45.56" y2="562.3" stroke="#000" stroke-width="1.25"/>
<text x="37.76" y="567.4" font-size="7.8" text-anchor="end" font-weight="bold" font-family='"Liberation Serif", serif' stroke="#000" stroke-width="0.25">0</text>
<line x1="43.58" y1="555.12" x2="45.58" y2="555.12" stroke="#000" stroke-width="1.25"/>
<line x1="41.81" y1="547.93" x2="45.61" y2="547.93" stroke="#000" stroke-width="1.25"/>
<text x="37.81" y="553.03" font-size="7.8" text-anchor="end" font-weight="bold" font-family='"Liberation Serif", serif' stroke="#000" stroke-width="0.25" textLength="14" lengthAdjust="spacing">100</text>
<line x1="43.64" y1="540.75" x2="45.64" y2="540.75" stroke="#000" stroke-width="1.25"/>
<line x1="41.87" y1="533.56" x2="45.67" y2="533.56" stroke="#000" stroke-width="1.25"/>
<text x="37.87" y="538.66" font-size="7.8" text-anchor="end" font-weight="bold" font-family='"Liberation Serif", serif' stroke="#000" stroke-width="0.25" textLength="14" lengthAdjust="spacing">200</text>
<line x1="43.69" y1="526.38" x2="45.69" y2="526.38" stroke="#000" stroke-width="1.25"/>
<line x1="41.92" y1="519.19" x2="45.72" y2="519.19" stroke="#000" stroke-width="1.25"/>
<text x="37.92" y="524.29" font-size="7.8" text-anchor="end" font-weight="bold" font-family='"Liberation Serif", serif' stroke="#000" stroke-width="0.25" textLength="14" lengthAdjust="spacing">300</text>
<line x1="43.75" y1="512" x2="45.75" y2="512" stroke="#000" stroke-width="1.25"/>
<line x1="41.98" y1="504.82" x2="45.78" y2="504.82" stroke="#000" stroke-width="1.25"/>
<text x="37.98" y="509.92" font-size="7.8" text-anchor="end" font-weight="bold" font-family='"Liberation Serif", serif' stroke="#000" stroke-width="0.25" textLength="14" lengthAdjust="spacing">400</text>
<line x1="43.81" y1="497.63" x2="45.81" y2="497.63" stroke="#000" stroke-width="1.25"/>
<line x1="42.03" y1="490.45" x2="45.83" y2="490.45" stroke="#000" stroke-width="1.25"/>
<text x="38.03" y="495.55" font-size="7.8" text-anchor="end" font-weight="bold" font-family='"Liberation Serif", serif' stroke="#000" stroke-width="0.25" textLength="14" lengthAdjust="spacing">500</text>
<line x1="43.86" y1="483.26" x2="45.86" y2="483.26" stroke="#000" stroke-width="1.25"/>
<line x1="42.09" y1="476.08" x2="45.89" y2="476.08" stroke="#000" stroke-width="1.25"/>
<text x="38.09" y="481.18" font-size="7.8" text-anchor="end" font-weight="bold" font-family='"Liberation Serif", serif' stroke="#000" stroke-width="0.25" textLength="14" lengthAdjust="spacing">600</text>
<line x1="43.92" y1="468.89" x2="45.92" y2="468.89" stroke="#000" stroke-width="1.25"/>
<line x1="42.14" y1="461.71" x2="45.94" y2="461.71" stroke="#000" stroke-width="1.25"/>
<text x="38.14" y="466.81" font-size="7.8" text-anchor="end" font-weight="bold" font-family='"Liberation Serif", serif' stroke="#000" stroke-width="0.25" textLength="14" lengthAdjust="spacing">700</text>
<line x1="43.97" y1="454.52" x2="45.97" y2="454.52" stroke="#000" stroke-width="1.25"/>
<line x1="42.2" y1="447.34" x2="46" y2="447.34" stroke="#000" stroke-width="1.25"/>
<text x="38.2" y="452.44" font-size="7.8" text-anchor="end" font-weight="bold" font-family='"Liberation Serif", serif' stroke="#000" stroke-width="0.25" textLength="14" lengthAdjust="spacing">800</text>
<line x1="45" y1="576.6" x2="242" y2="577.2" stroke="#000" stroke-width="1.25"/>
<line x1="67.1" y1="576.67" x2="67.1" y2="580.17" stroke="#000" stroke-width="1.25"/>
<text x="68.1" y="593.92" font-size="7.8" text-anchor="middle" font-weight="bold" font-family='"Liberation Serif", serif' stroke="#000" stroke-width="0.25">0</text>
<line x1="78" y1="576.7" x2="78" y2="578.9" stroke="#000" stroke-width="1.25"/>
<line x1="88.9" y1="576.73" x2="88.9" y2="580.23" stroke="#000" stroke-width="1.25"/>
<text x="89.9" y="593.98" font-size="7.8" text-anchor="middle" font-weight="bold" font-family='"Liberation Serif", serif' stroke="#000" stroke-width="0.25" textLength="14" lengthAdjust="spacing">100</text>
<line x1="99.8" y1="576.77" x2="99.8" y2="578.97" stroke="#000" stroke-width="1.25"/>
<line x1="110.7" y1="576.8" x2="110.7" y2="580.3" stroke="#000" stroke-width="1.25"/>
<text x="111.7" y="594.05" font-size="7.8" text-anchor="middle" font-weight="bold" font-family='"Liberation Serif", serif' stroke="#000" stroke-width="0.25" textLength="14" lengthAdjust="spacing">200</text>
<line x1="121.6" y1="576.83" x2="121.6" y2="579.03" stroke="#000" stroke-width="1.25"/>
<line x1="132.5" y1="576.87" x2="132.5" y2="580.37" stroke="#000" stroke-width="1.25"/>
<text x="133.5" y="594.12" font-size="7.8" text-anchor="middle" font-weight="bold" font-family='"Liberation Serif", serif' stroke="#000" stroke-width="0.25" textLength="14" lengthAdjust="spacing">300</text>
<line x1="143.4" y1="576.9" x2="143.4" y2="579.1" stroke="#000" stroke-width="1.25"/>
<line x1="154.3" y1="576.93" x2="154.3" y2="580.43" stroke="#000" stroke-width="1.25"/>
<text x="155.3" y="594.18" font-size="7.8" text-anchor="middle" font-weight="bold" font-family='"Liberation Serif", serif' stroke="#000" stroke-width="0.25" textLength="14" lengthAdjust="spacing">400</text>
<line x1="165.2" y1="576.97" x2="165.2" y2="579.17" stroke="#000" stroke-width="1.25"/>
<line x1="176.1" y1="577" x2="176.1" y2="580.5" stroke="#000" stroke-width="1.25"/>
<text x="177.1" y="594.25" font-size="7.8" text-anchor="middle" font-weight="bold" font-family='"Liberation Serif", serif' stroke="#000" stroke-width="0.25" textLength="14" lengthAdjust="spacing">500</text>
<line x1="187" y1="577.03" x2="187" y2="579.23" stroke="#000" stroke-width="1.25"/>
<line x1="197.9" y1="577.07" x2="197.9" y2="580.57" stroke="#000" stroke-width="1.25"/>
<text x="198.9" y="594.32" font-size="7.8" text-anchor="middle" font-weight="bold" font-family='"Liberation Serif", serif' stroke="#000" stroke-width="0.25" textLength="14" lengthAdjust="spacing">600</text>
<line x1="208.8" y1="577.1" x2="208.8" y2="579.3" stroke="#000" stroke-width="1.25"/>
<line x1="219.7" y1="577.13" x2="219.7" y2="580.63" stroke="#000" stroke-width="1.25"/>
<text x="220.7" y="594.38" font-size="7.8" text-anchor="middle" font-weight="bold" font-family='"Liberation Serif", serif' stroke="#000" stroke-width="0.25" textLength="14" lengthAdjust="spacing">700</text>
<line x1="230.6" y1="577.17" x2="230.6" y2="579.37" stroke="#000" stroke-width="1.25"/>
<line x1="241.5" y1="577.2" x2="241.5" y2="580.7" stroke="#000" stroke-width="1.25"/>
<text x="242.5" y="594.45" font-size="7.8" text-anchor="middle" font-weight="bold" font-family='"Liberation Serif", serif' stroke="#000" stroke-width="0.25" textLength="14" lengthAdjust="spacing">800</text>
<line x1="67.2" y1="449" x2="67.2" y2="575" stroke="#000" stroke-width="1.0" stroke-dasharray="1.3 2.2"/>
<line x1="46" y1="562.3" x2="240.6" y2="563" stroke="#000" stroke-width="1.0" stroke-dasharray="1.7 1.9"/>
<circle cx="69.1" cy="540.25" r="3.1"/>
<circle cx="69.1" cy="551.9" r="3.1"/>
<circle cx="71.25" cy="553.5" r="3.1"/>
<circle cx="69.1" cy="561" r="3.1"/>
<circle cx="93.75" cy="551.25" r="3.1"/>
<circle cx="84" cy="516.6" r="3.1"/>
<circle cx="129.6" cy="526.9" r="3.1"/>
<circle cx="105.25" cy="533.75" r="3.1"/>
<circle cx="104" cy="536.5" r="3.1"/>
<circle cx="99.6" cy="541.25" r="3.1"/>
<circle cx="110.6" cy="546.5" r="3.1"/>
<circle cx="94" cy="551" r="3.1"/>
<circle cx="112.25" cy="554.6" r="3.1"/>
<circle cx="122.25" cy="553.75" r="3.1"/>
<circle cx="134" cy="552.9" r="3.1"/>
<circle cx="139.6" cy="549.4" r="3.1"/>
<circle cx="143.5" cy="515.25" r="3.1"/>
<circle cx="184" cy="518.1" r="3.1"/>
<circle cx="148.1" cy="526.9" r="3.1"/>
<circle cx="153.5" cy="531.5" r="3.1"/>
<circle cx="150.4" cy="538.5" r="3.1"/>
<circle cx="144.4" cy="551.5" r="3.1"/>
<circle cx="174" cy="549.4" r="3.1"/>
<circle cx="179.6" cy="552.25" r="3.1"/>
<circle cx="204.1" cy="523.5" r="3.1"/>
<circle cx="238.75" cy="535.25" r="3.1"/>
<circle cx="200.6" cy="544.1" r="3.1"/>
<circle cx="211.5" cy="542.25" r="3.1"/>
<circle cx="217.75" cy="559.1" r="3.1"/>
<text transform="translate(9,515.6) rotate(-90)" x="0" y="0" font-size="7.8" text-anchor="middle" font-weight="bold" font-family='"Liberation Serif", serif' stroke="#000" stroke-width="0.22" textLength="48" lengthAdjust="spacing">B cell (/<tspan font-style="italic">μ</tspan>L)</text>
<text x="112" y="614.1" font-size="7.8" font-weight="bold" font-family='"Liberation Serif", serif' stroke="#000" stroke-width="0.22" textLength="65.5" lengthAdjust="spacing">CD4+ cell (/<tspan font-style="italic">μ</tspan>L.)</text>
<text x="277" y="444.4" font-size="25.5" font-weight="bold" font-family='"Liberation Sans", sans-serif'>F</text>
<line x1="314.4" y1="446.4" x2="313.5" y2="577.3" stroke="#000" stroke-width="1.25"/>
<line x1="309.79" y1="564.3" x2="313.59" y2="564.3" stroke="#000" stroke-width="1.25"/>
<text x="304.69" y="568.9" font-size="7.8" text-anchor="end" font-weight="bold" font-family='"Liberation Serif", serif' stroke="#000" stroke-width="0.25">0</text>
<line x1="309.88" y1="551.25" x2="313.68" y2="551.25" stroke="#000" stroke-width="1.25"/>
<text x="304.78" y="555.85" font-size="7.8" text-anchor="end" font-weight="bold" font-family='"Liberation Serif", serif' stroke="#000" stroke-width="0.25">5</text>
<line x1="309.97" y1="538.2" x2="313.77" y2="538.2" stroke="#000" stroke-width="1.25"/>
<text x="304.87" y="542.8" font-size="7.8" text-anchor="end" font-weight="bold" font-family='"Liberation Serif", serif' stroke="#000" stroke-width="0.25" textLength="9.2" lengthAdjust="spacing">10</text>
<line x1="310.06" y1="525.15" x2="313.86" y2="525.15" stroke="#000" stroke-width="1.25"/>
<text x="304.96" y="529.75" font-size="7.8" text-anchor="end" font-weight="bold" font-family='"Liberation Serif", serif' stroke="#000" stroke-width="0.25" textLength="9.2" lengthAdjust="spacing">15</text>
<line x1="310.15" y1="512.1" x2="313.95" y2="512.1" stroke="#000" stroke-width="1.25"/>
<text x="305.05" y="516.7" font-size="7.8" text-anchor="end" font-weight="bold" font-family='"Liberation Serif", serif' stroke="#000" stroke-width="0.25" textLength="9.2" lengthAdjust="spacing">20</text>
<line x1="310.24" y1="499.05" x2="314.04" y2="499.05" stroke="#000" stroke-width="1.25"/>
<text x="305.14" y="503.65" font-size="7.8" text-anchor="end" font-weight="bold" font-family='"Liberation Serif", serif' stroke="#000" stroke-width="0.25" textLength="9.2" lengthAdjust="spacing">25</text>
<line x1="310.33" y1="486" x2="314.13" y2="486" stroke="#000" stroke-width="1.25"/>
<text x="305.23" y="490.6" font-size="7.8" text-anchor="end" font-weight="bold" font-family='"Liberation Serif", serif' stroke="#000" stroke-width="0.25" textLength="9.2" lengthAdjust="spacing">30</text>
<line x1="310.42" y1="472.95" x2="314.22" y2="472.95" stroke="#000" stroke-width="1.25"/>
<text x="305.32" y="477.55" font-size="7.8" text-anchor="end" font-weight="bold" font-family='"Liberation Serif", serif' stroke="#000" stroke-width="0.25" textLength="9.2" lengthAdjust="spacing">35</text>
<line x1="310.51" y1="459.9" x2="314.31" y2="459.9" stroke="#000" stroke-width="1.25"/>
<text x="305.41" y="464.5" font-size="7.8" text-anchor="end" font-weight="bold" font-family='"Liberation Serif", serif' stroke="#000" stroke-width="0.25" textLength="9.2" lengthAdjust="spacing">40</text>
<line x1="310.6" y1="446.85" x2="314.4" y2="446.85" stroke="#000" stroke-width="1.25"/>
<text x="305.5" y="451.45" font-size="7.8" text-anchor="end" font-weight="bold" font-family='"Liberation Serif", serif' stroke="#000" stroke-width="0.25" textLength="9.2" lengthAdjust="spacing">45</text>
<line x1="313" y1="576.8" x2="510.5" y2="577.4" stroke="#000" stroke-width="1.25"/>
<line x1="313.2" y1="576.8" x2="313.2" y2="580.4" stroke="#000" stroke-width="1.25"/>
<text x="313.7" y="595.2" font-size="9.3" text-anchor="middle" font-weight="bold" font-family='"Liberation Serif", serif' stroke="#000" stroke-width="0.25" textLength="9.9" lengthAdjust="spacingAndGlyphs">10</text>
<text x="316.3" y="587.7" font-size="5.6" text-anchor="start" font-weight="bold" font-family='"Liberation Serif", serif' stroke="#000" stroke-width="0.25" textLength="7.2" lengthAdjust="spacingAndGlyphs" font-style="italic">2.5</text>
<line x1="352.56" y1="576.92" x2="352.56" y2="580.52" stroke="#000" stroke-width="1.25"/>
<text x="353.06" y="595.2" font-size="9.3" text-anchor="middle" font-weight="bold" font-family='"Liberation Serif", serif' stroke="#000" stroke-width="0.25" textLength="9.9" lengthAdjust="spacingAndGlyphs">10</text>
<text x="359.06" y="587.7" font-size="5.6" text-anchor="start" font-weight="bold" font-family='"Liberation Serif", serif' stroke="#000" stroke-width="0.25" font-style="italic">3</text>
<line x1="391.92" y1="577.04" x2="391.92" y2="580.64" stroke="#000" stroke-width="1.25"/>
<text x="392.42" y="595.2" font-size="9.3" text-anchor="middle" font-weight="bold" font-family='"Liberation Serif", serif' stroke="#000" stroke-width="0.25" textLength="9.9" lengthAdjust="spacingAndGlyphs">10</text>
<text x="395.02" y="587.7" font-size="5.6" text-anchor="start" font-weight="bold" font-family='"Liberation Serif", serif' stroke="#000" stroke-width="0.25" textLength="7.2" lengthAdjust="spacingAndGlyphs" font-style="italic">3.5</text>
<line x1="431.28" y1="577.16" x2="431.28" y2="580.76" stroke="#000" stroke-width="1.25"/>
<text x="431.78" y="595.2" font-size="9.3" text-anchor="middle" font-weight="bold" font-family='"Liberation Serif", serif' stroke="#000" stroke-width="0.25" textLength="9.9" lengthAdjust="spacingAndGlyphs">10</text>
<text x="437.78" y="587.7" font-size="5.6" text-anchor="start" font-weight="bold" font-family='"Liberation Serif", serif' stroke="#000" stroke-width="0.25" font-style="italic">4</text>
<line x1="470.64" y1="577.28" x2="470.64" y2="580.88" stroke="#000" stroke-width="1.25"/>
<text x="471.14" y="595.2" font-size="9.3" text-anchor="middle" font-weight="bold" font-family='"Liberation Serif", serif' stroke="#000" stroke-width="0.25" textLength="9.9" lengthAdjust="spacingAndGlyphs">10</text>
<text x="473.74" y="587.7" font-size="5.6" text-anchor="start" font-weight="bold" font-family='"Liberation Serif", serif' stroke="#000" stroke-width="0.25" textLength="7.2" lengthAdjust="spacingAndGlyphs" font-style="italic">4.5</text>
<line x1="510" y1="577.4" x2="510" y2="581" stroke="#000" stroke-width="1.25"/>
<text x="510.5" y="595.2" font-size="9.3" text-anchor="middle" font-weight="bold" font-family='"Liberation Serif", serif' stroke="#000" stroke-width="0.25" textLength="9.9" lengthAdjust="spacingAndGlyphs">10</text>
<text x="516.5" y="587.7" font-size="5.6" text-anchor="start" font-weight="bold" font-family='"Liberation Serif", serif' stroke="#000" stroke-width="0.25" font-style="italic">5</text>
<line x1="314.5" y1="564.5" x2="510" y2="564.8" stroke="#000" stroke-width="1.0" stroke-dasharray="1.7 1.9"/>
<circle cx="321.9" cy="504.4" r="3.1"/>
<circle cx="359" cy="520.9" r="3.1"/>
<circle cx="342.75" cy="530.6" r="3.1"/>
<circle cx="321.9" cy="549.4" r="3.1"/>
<circle cx="321.9" cy="559.1" r="3.1"/>
<circle cx="339" cy="557.5" r="3.1"/>
<circle cx="386.5" cy="500" r="3.1"/>
<circle cx="376.25" cy="560.9" r="3.1"/>
<circle cx="390" cy="558.1" r="3.1"/>
<circle cx="392.75" cy="563.1" r="3.1"/>
<circle cx="402.5" cy="553.1" r="3.1"/>
<circle cx="406.9" cy="553.1" r="3.1"/>
<circle cx="411" cy="555.6" r="3.1"/>
<circle cx="404.4" cy="563.1" r="3.1"/>
<circle cx="408.75" cy="562.25" r="3.1"/>
<circle cx="437.25" cy="492.1" r="3.1"/>
<circle cx="437.25" cy="502.25" r="3.1"/>
<circle cx="440" cy="515.9" r="3.1"/>
<circle cx="485.9" cy="531" r="3.1"/>
<circle cx="481.25" cy="536.6" r="3.1"/>
<circle cx="474.75" cy="543.5" r="3.1"/>
<circle cx="445.4" cy="542.6" r="3.1"/>
<circle cx="442.6" cy="552.3" r="3.1"/>
<circle cx="445.4" cy="554.9" r="3.1"/>
<circle cx="460" cy="563.1" r="3.1"/>
<circle cx="492" cy="550.8" r="3.1"/>
<circle cx="501.2" cy="563.1" r="3.1"/>
<circle cx="474.15" cy="460.8" r="3.1"/>
<text transform="translate(286.3,507.5) rotate(-90)" x="0" y="0" font-size="8.4" text-anchor="middle" font-weight="normal" font-family='"Liberation Serif", serif' stroke="#000" stroke-width="0.3" textLength="96" lengthAdjust="spacing">HCV RNA (<tspan font-size="11" dy="0.9">×</tspan><tspan dy="-0.9">10</tspan><tspan dy="-2.8" font-size="6.5">6</tspan><tspan dy="2.8">eq/ml.)</tspan></text>
<text x="365" y="607.5" font-size="7.8" font-weight="bold" font-family='"Liberation Serif", serif' stroke="#000" stroke-width="0.22" textLength="88" lengthAdjust="spacing">HIV RNA (copies/ml.)</text>
<text x="0.3" y="635.9" font-size="25.5" font-weight="bold" font-family='"Liberation Sans", sans-serif'>G</text>
<text x="8" y="650" font-size="10.3" text-anchor="start" font-weight="bold" font-family='"Liberation Serif", serif' stroke="#000" stroke-width="0.25" textLength="112.8" lengthAdjust="spacing">HAART for 6 months</text>
<line x1="45" y1="663.9" x2="44.6" y2="794.4" stroke="#000" stroke-width="1.25"/>
<line x1="40.84" y1="779.5" x2="44.64" y2="779.5" stroke="#000" stroke-width="1.25"/>
<text x="37.94" y="782.6" font-size="7.8" text-anchor="end" font-weight="bold" font-family='"Liberation Serif", serif' stroke="#000" stroke-width="0.25">0</text>
<line x1="42.67" y1="772.3" x2="44.67" y2="772.3" stroke="#000" stroke-width="1.25"/>
<line x1="40.89" y1="765.11" x2="44.69" y2="765.11" stroke="#000" stroke-width="1.25"/>
<text x="37.99" y="768.21" font-size="7.8" text-anchor="end" font-weight="bold" font-family='"Liberation Serif", serif' stroke="#000" stroke-width="0.25" textLength="14" lengthAdjust="spacing">100</text>
<line x1="42.71" y1="757.91" x2="44.71" y2="757.91" stroke="#000" stroke-width="1.25"/>
<line x1="40.93" y1="750.72" x2="44.73" y2="750.72" stroke="#000" stroke-width="1.25"/>
<text x="38.03" y="753.82" font-size="7.8" text-anchor="end" font-weight="bold" font-family='"Liberation Serif", serif' stroke="#000" stroke-width="0.25" textLength="14" lengthAdjust="spacing">200</text>
<line x1="42.76" y1="743.52" x2="44.76" y2="743.52" stroke="#000" stroke-width="1.25"/>
<line x1="40.98" y1="736.33" x2="44.78" y2="736.33" stroke="#000" stroke-width="1.25"/>
<text x="38.08" y="739.43" font-size="7.8" text-anchor="end" font-weight="bold" font-family='"Liberation Serif", serif' stroke="#000" stroke-width="0.25" textLength="14" lengthAdjust="spacing">300</text>
<line x1="42.8" y1="729.13" x2="44.8" y2="729.13" stroke="#000" stroke-width="1.25"/>
<line x1="41.02" y1="721.94" x2="44.82" y2="721.94" stroke="#000" stroke-width="1.25"/>
<text x="38.12" y="725.04" font-size="7.8" text-anchor="end" font-weight="bold" font-family='"Liberation Serif", serif' stroke="#000" stroke-width="0.25" textLength="14" lengthAdjust="spacing">400</text>
<line x1="42.84" y1="714.75" x2="44.84" y2="714.75" stroke="#000" stroke-width="1.25"/>
<line x1="41.07" y1="707.55" x2="44.87" y2="707.55" stroke="#000" stroke-width="1.25"/>
<text x="38.17" y="710.65" font-size="7.8" text-anchor="end" font-weight="bold" font-family='"Liberation Serif", serif' stroke="#000" stroke-width="0.25" textLength="14" lengthAdjust="spacing">500</text>
<line x1="42.89" y1="700.35" x2="44.89" y2="700.35" stroke="#000" stroke-width="1.25"/>
<line x1="41.11" y1="693.16" x2="44.91" y2="693.16" stroke="#000" stroke-width="1.25"/>
<text x="38.21" y="696.26" font-size="7.8" text-anchor="end" font-weight="bold" font-family='"Liberation Serif", serif' stroke="#000" stroke-width="0.25" textLength="14" lengthAdjust="spacing">600</text>
<line x1="42.93" y1="685.96" x2="44.93" y2="685.96" stroke="#000" stroke-width="1.25"/>
<line x1="41.16" y1="678.77" x2="44.96" y2="678.77" stroke="#000" stroke-width="1.25"/>
<text x="38.26" y="681.87" font-size="7.8" text-anchor="end" font-weight="bold" font-family='"Liberation Serif", serif' stroke="#000" stroke-width="0.25" textLength="14" lengthAdjust="spacing">700</text>
<line x1="42.98" y1="671.57" x2="44.98" y2="671.57" stroke="#000" stroke-width="1.25"/>
<line x1="41.2" y1="664.38" x2="45" y2="664.38" stroke="#000" stroke-width="1.25"/>
<text x="38.3" y="667.48" font-size="7.8" text-anchor="end" font-weight="bold" font-family='"Liberation Serif", serif' stroke="#000" stroke-width="0.25" textLength="14" lengthAdjust="spacing">800</text>
<line x1="44.1" y1="793.9" x2="241.99" y2="793.9" stroke="#000" stroke-width="1.25"/>
<line x1="65" y1="793.9" x2="65" y2="797.4" stroke="#000" stroke-width="1.25"/>
<text x="66" y="810.8" font-size="7.8" text-anchor="middle" font-weight="bold" font-family='"Liberation Serif", serif' stroke="#000" stroke-width="0.25">0</text>
<line x1="74.81" y1="793.9" x2="74.81" y2="796.1" stroke="#000" stroke-width="1.25"/>
<line x1="84.61" y1="793.9" x2="84.61" y2="797.4" stroke="#000" stroke-width="1.25"/>
<text x="85.61" y="810.8" font-size="7.8" text-anchor="middle" font-weight="bold" font-family='"Liberation Serif", serif' stroke="#000" stroke-width="0.25">5</text>
<line x1="94.41" y1="793.9" x2="94.41" y2="796.1" stroke="#000" stroke-width="1.25"/>
<line x1="104.22" y1="793.9" x2="104.22" y2="797.4" stroke="#000" stroke-width="1.25"/>
<text x="105.22" y="810.8" font-size="7.8" text-anchor="middle" font-weight="bold" font-family='"Liberation Serif", serif' stroke="#000" stroke-width="0.25" textLength="9.2" lengthAdjust="spacing">10</text>
<line x1="114.03" y1="793.9" x2="114.03" y2="796.1" stroke="#000" stroke-width="1.25"/>
<line x1="123.83" y1="793.9" x2="123.83" y2="797.4" stroke="#000" stroke-width="1.25"/>
<text x="124.83" y="810.8" font-size="7.8" text-anchor="middle" font-weight="bold" font-family='"Liberation Serif", serif' stroke="#000" stroke-width="0.25" textLength="9.2" lengthAdjust="spacing">15</text>
<line x1="133.64" y1="793.9" x2="133.64" y2="796.1" stroke="#000" stroke-width="1.25"/>
<line x1="143.44" y1="793.9" x2="143.44" y2="797.4" stroke="#000" stroke-width="1.25"/>
<text x="144.44" y="810.8" font-size="7.8" text-anchor="middle" font-weight="bold" font-family='"Liberation Serif", serif' stroke="#000" stroke-width="0.25" textLength="9.2" lengthAdjust="spacing">20</text>
<line x1="153.25" y1="793.9" x2="153.25" y2="796.1" stroke="#000" stroke-width="1.25"/>
<line x1="163.05" y1="793.9" x2="163.05" y2="797.4" stroke="#000" stroke-width="1.25"/>
<text x="164.05" y="810.8" font-size="7.8" text-anchor="middle" font-weight="bold" font-family='"Liberation Serif", serif' stroke="#000" stroke-width="0.25" textLength="9.2" lengthAdjust="spacing">25</text>
<line x1="172.86" y1="793.9" x2="172.86" y2="796.1" stroke="#000" stroke-width="1.25"/>
<line x1="182.66" y1="793.9" x2="182.66" y2="797.4" stroke="#000" stroke-width="1.25"/>
<text x="183.66" y="810.8" font-size="7.8" text-anchor="middle" font-weight="bold" font-family='"Liberation Serif", serif' stroke="#000" stroke-width="0.25" textLength="9.2" lengthAdjust="spacing">30</text>
<line x1="192.47" y1="793.9" x2="192.47" y2="796.1" stroke="#000" stroke-width="1.25"/>
<line x1="202.27" y1="793.9" x2="202.27" y2="797.4" stroke="#000" stroke-width="1.25"/>
<text x="203.27" y="810.8" font-size="7.8" text-anchor="middle" font-weight="bold" font-family='"Liberation Serif", serif' stroke="#000" stroke-width="0.25" textLength="9.2" lengthAdjust="spacing">35</text>
<line x1="212.08" y1="793.9" x2="212.08" y2="796.1" stroke="#000" stroke-width="1.25"/>
<line x1="221.88" y1="793.9" x2="221.88" y2="797.4" stroke="#000" stroke-width="1.25"/>
<text x="222.88" y="810.8" font-size="7.8" text-anchor="middle" font-weight="bold" font-family='"Liberation Serif", serif' stroke="#000" stroke-width="0.25" textLength="9.2" lengthAdjust="spacing">40</text>
<line x1="231.69" y1="793.9" x2="231.69" y2="796.1" stroke="#000" stroke-width="1.25"/>
<line x1="241.49" y1="793.9" x2="241.49" y2="797.4" stroke="#000" stroke-width="1.25"/>
<text x="242.49" y="810.8" font-size="7.8" text-anchor="middle" font-weight="bold" font-family='"Liberation Serif", serif' stroke="#000" stroke-width="0.25" textLength="9.2" lengthAdjust="spacing">45</text>
<line x1="64.95" y1="666" x2="64.95" y2="790" stroke="#000" stroke-width="1.0" stroke-dasharray="1.3 2.2"/>
<line x1="45.5" y1="779.5" x2="240" y2="779.5" stroke="#000" stroke-width="1.0" stroke-dasharray="1.7 1.9"/>
<circle cx="82.9" cy="677.25" r="3.1"/>
<circle cx="67.1" cy="701.7" r="3.1"/>
<circle cx="75.4" cy="706.9" r="3.1"/>
<circle cx="67.1" cy="713.1" r="3.1"/>
<circle cx="93.75" cy="713.1" r="3.1"/>
<circle cx="82.75" cy="720.4" r="3.1"/>
<circle cx="67.9" cy="725" r="3.1"/>
<circle cx="66.9" cy="732.25" r="3.1"/>
<circle cx="70" cy="736.9" r="3.1"/>
<circle cx="66.9" cy="747.3" r="3.1"/>
<circle cx="66.9" cy="752.5" r="3.1"/>
<circle cx="66.9" cy="756.9" r="3.1"/>
<circle cx="82.75" cy="751.6" r="3.1"/>
<circle cx="83.1" cy="754.7" r="3.1"/>
<circle cx="84.75" cy="758.1" r="3.1"/>
<circle cx="71.25" cy="760.6" r="3.1"/>
<circle cx="68.1" cy="763.75" r="3.1"/>
<circle cx="74.4" cy="765" r="3.1"/>
<circle cx="79" cy="765.6" r="3.1"/>
<circle cx="111.9" cy="754" r="3.1"/>
<circle cx="123.75" cy="751.25" r="3.1"/>
<circle cx="123.75" cy="771.75" r="3.1"/>
<circle cx="143.75" cy="768.75" r="3.1"/>
<circle cx="198" cy="745" r="3.1"/>
<text transform="translate(14.4,730) rotate(-90)" x="0" y="0" font-size="7.8" text-anchor="middle" font-weight="bold" font-family='"Liberation Serif", serif' stroke="#000" stroke-width="0.22" textLength="48" lengthAdjust="spacing">B cell (/<tspan font-style="italic">μ</tspan>L)</text>
<text x="99.5" y="825.5" font-size="7.8" font-weight="bold" font-family='"Liberation Serif", serif' stroke="#000" stroke-width="0.22" textLength="94.8" lengthAdjust="spacing">HCV RNA (<tspan font-size="11" dy="0.9">×</tspan><tspan dy="-0.9"> 10</tspan><tspan dy="-2.8" font-size="6.5">6</tspan><tspan dy="2.8">eq/ml.)</tspan></text>
</g>
</svg>
</body></html>
